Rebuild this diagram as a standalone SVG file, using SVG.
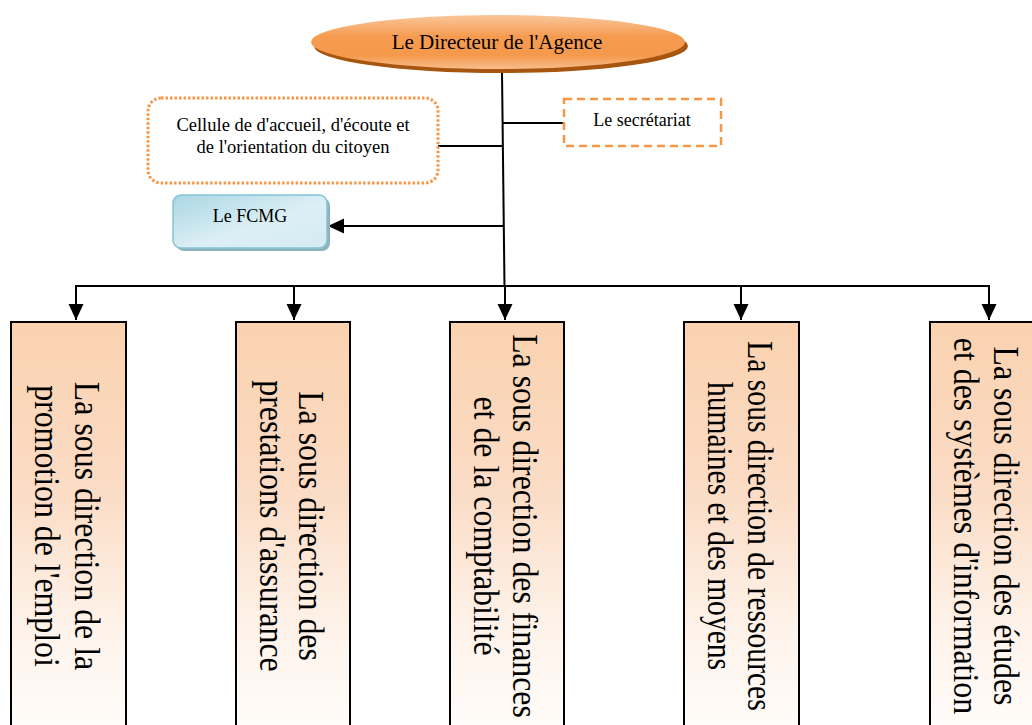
<svg xmlns="http://www.w3.org/2000/svg" width="1032" height="725" viewBox="0 0 1032 725">
  <style>
    text { font-family: "Liberation Serif", "Times New Roman", serif; fill: #000; }
    .small { font-size: 18px; text-anchor: middle; }
    .big { font-size: 35px; text-anchor: middle; }
    .link { stroke: #000; stroke-width: 2; fill: none; }
    .unit { fill: url(#unitFill); stroke: #000; stroke-width: 2; }
  </style>
  <defs>
    <linearGradient id="headFill" x1="0" y1="0" x2="0" y2="1">
      <stop offset="0" stop-color="#f9c79c"/>
      <stop offset="0.4" stop-color="#f59b50"/>
      <stop offset="0.75" stop-color="#f5994c"/>
      <stop offset="1" stop-color="#f8bd8a"/>
    </linearGradient>
    <linearGradient id="unitFill" x1="0" y1="0" x2="0" y2="1">
      <stop offset="0" stop-color="#fad2b0"/>
      <stop offset="0.4" stop-color="#fbdcc5"/>
      <stop offset="0.75" stop-color="#fef4ec"/>
      <stop offset="1" stop-color="#fffdfb"/>
    </linearGradient>
    <linearGradient id="fundFill" x1="0" y1="0" x2="1" y2="1">
      <stop offset="0" stop-color="#a9d6e4"/>
      <stop offset="0.55" stop-color="#dceff5"/>
      <stop offset="1" stop-color="#d4ebf2"/>
    </linearGradient>
    <marker id="arrow" markerUnits="userSpaceOnUse" markerWidth="16" markerHeight="16" refX="16" refY="7.5" orient="auto">
      <path d="M0,0 L16,7.5 L0,15 z" fill="#000"/>
    </marker>
  </defs>

  <!-- connectors -->
  <g id="connectors">
    <line class="link" x1="502" y1="72" x2="504.5" y2="287"/>
    <line class="link" x1="438" y1="146" x2="503" y2="146"/>
    <line class="link" x1="503" y1="123" x2="564" y2="123"/>
    <line class="link" x1="504" y1="226" x2="328" y2="226" marker-end="url(#arrow)"/>
    <polyline class="link" points="76,320 76,286 989,286 989,320" marker-end="url(#arrow)"/>
    <line class="link" x1="76" y1="290" x2="76" y2="320" marker-end="url(#arrow)"/>
    <line class="link" x1="294" y1="286" x2="294" y2="320" marker-end="url(#arrow)"/>
    <line class="link" x1="505" y1="286" x2="505" y2="320" marker-end="url(#arrow)"/>
    <line class="link" x1="741" y1="286" x2="741" y2="320" marker-end="url(#arrow)"/>
  </g>

  <!-- head -->
  <g id="directeur">
    <ellipse cx="501" cy="46" rx="187" ry="27" fill="#a6560f"/>
    <ellipse cx="498" cy="42" rx="187" ry="27" fill="url(#headFill)"/>
    <text class="small" x="497" y="49" style="font-size:21px">Le Directeur de l'Agence</text>
  </g>

  <g id="cellule">
    <rect x="148" y="98" width="290" height="85" rx="13" fill="#fff" stroke="#f79646" stroke-width="3" stroke-dasharray="2.5 2"/>
    <text class="small" x="293" y="131" style="font-size:18.5px">Cellule de d'accueil, d'écoute et</text>
    <text class="small" x="293" y="153" style="font-size:18.5px">de l'orientation du citoyen</text>
  </g>

  <g id="secretariat">
    <rect x="564" y="99" width="157" height="47" fill="#fff" stroke="#f79646" stroke-width="2.5" stroke-dasharray="8 5"/>
    <text class="small" x="642" y="126">Le secrétariat</text>
  </g>

  <g id="fcmg">
    <rect x="176" y="198" width="154" height="53" rx="8" fill="#8fb3be"/>
    <rect x="173" y="195" width="154" height="53" rx="8" fill="url(#fundFill)" stroke="#86c3d3" stroke-width="1.5"/>
    <text class="small" x="250" y="222">Le FCMG</text>
  </g>

  <!-- sub-directorates -->
  <g id="sd-emploi">
    <rect class="unit" x="11" y="322" width="115" height="420"/>
    <g transform="translate(68.5,526) rotate(90) scale(0.91,1)">
      <text class="big" x="0" y="-6.5">La sous direction de la</text>
      <text class="big" x="0" y="33.5">promotion de l'emploi</text>
    </g>
  </g>

  <g id="sd-assurance">
    <rect class="unit" x="236" y="322" width="114" height="420"/>
    <g transform="translate(293,526) rotate(90) scale(0.91,1)">
      <text class="big" x="0" y="-6.5">La sous direction des</text>
      <text class="big" x="0" y="33.5">prestations d'assurance</text>
    </g>
  </g>

  <g id="sd-finances">
    <rect class="unit" x="450" y="322" width="114" height="420"/>
    <g transform="translate(507,526) rotate(90) scale(0.91,1)">
      <text class="big" x="0" y="-6.5">La sous direction des finances</text>
      <text class="big" x="0" y="33.5">et de la comptabilité</text>
    </g>
  </g>

  <g id="sd-ressources">
    <rect class="unit" x="684" y="322" width="115" height="420"/>
    <g transform="translate(741.5,526) rotate(90) scale(0.845,1)">
      <text class="big" x="0" y="-6.5">La sous direction de ressources</text>
      <text class="big" x="0" y="33.5">humaines et des moyens</text>
    </g>
  </g>

  <g id="sd-etudes">
    <rect class="unit" x="930" y="322" width="115" height="420"/>
    <g transform="translate(987.5,526) rotate(90) scale(0.91,1)">
      <text class="big" x="0" y="-6.5">La sous direction des études</text>
      <text class="big" x="0" y="33.5">et des systèmes d'information</text>
    </g>
  </g>
</svg>
